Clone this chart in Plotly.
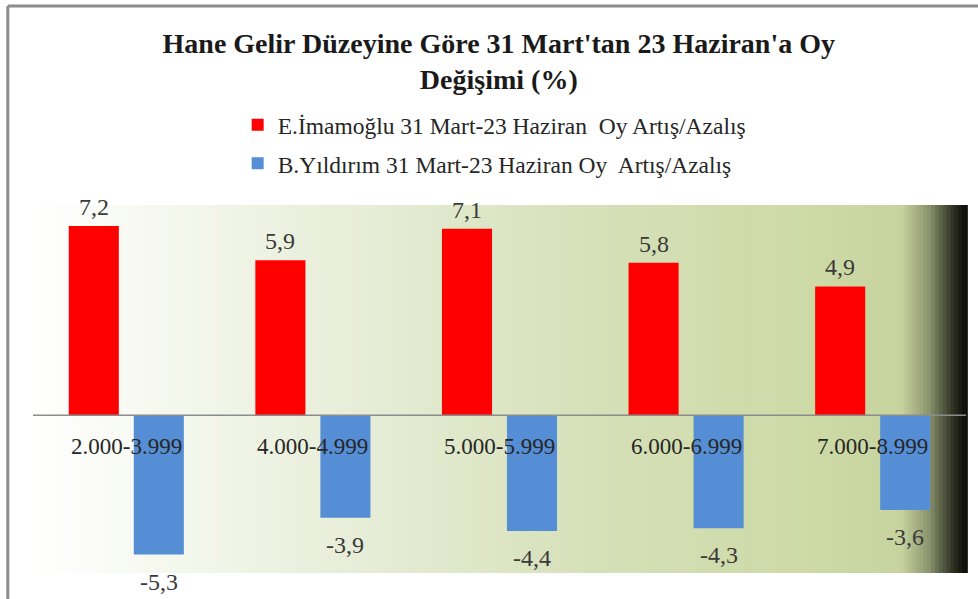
import plotly.graph_objects as go

# Income bands and vote change (percentage points) per candidate
categories = ["2.000-3.999", "4.000-4.999", "5.000-5.999", "6.000-6.999", "7.000-8.999"]
imamoglu = [7.2, 5.9, 7.1, 5.8, 4.9]
yildirim = [-5.3, -3.9, -4.4, -4.3, -3.6]
series_names = [
    "E.İmamoğlu 31 Mart-23 Haziran  Oy Artış/Azalış",
    "B.Yıldırım 31 Mart-23 Haziran Oy  Artış/Azalış",
]
title_text = "Hane Gelir Düzeyine Göre 31 Mart'tan 23 Haziran'a Oy<br>Değişimi (%)"

RED = "#ff0000"
BLUE = "#558ed5"
SERIF = "Liberation Serif, Times New Roman, serif"

fig = go.Figure()
fig.add_trace(go.Bar(x=categories, y=imamoglu, name=series_names[0],
                     marker=dict(color=RED, line=dict(width=0)), legendgroup="a"))
fig.add_trace(go.Bar(x=categories, y=yildirim, name=series_names[1],
                     marker=dict(color=BLUE, line=dict(width=0)), legendgroup="b"))

# value labels (comma as decimal separator)
annotations = []
for cat, a, b in zip(categories, imamoglu, yildirim):
    for val, dx in ((a, -32.5), (b, 32.5)):
        annotations.append(dict(
            x=cat, y=val, xref="x", yref="y", xshift=dx,
            yshift=19 if val > 0 else -27, yanchor="middle",
            text=f"{val:.1f}".replace(".", ","), showarrow=False,
            font=dict(family=SERIF, size=24, color="#3a3a3a")))
    # category label sitting just under the zero line
    annotations.append(dict(
        x=cat, y=0, xref="x", yref="y", yshift=-31, yanchor="middle",
        text=cat, showarrow=False,
        font=dict(family=SERIF, size=23, color="#262626")))

# horizontal background gradient: white -> pale green -> dark edge
stops = [
    (0.00, (255, 255, 255)),
    (0.18, (243, 246, 234)),
    (0.39, (228, 235, 211)),
    (0.60, (214, 224, 184)),
    (0.85, (205, 217, 165)),
    (0.93, (200, 212, 160)),
    (0.96, (140, 149, 110)),
    (0.985, (50, 52, 38)),
    (1.00, (10, 10, 8)),
]


def color_at(t):
    for (t0, c0), (t1, c1) in zip(stops[:-1], stops[1:]):
        if t0 <= t <= t1:
            f = (t - t0) / (t1 - t0) if t1 > t0 else 0
            return "rgb(%d,%d,%d)" % tuple(round(c0[i] + (c1[i] - c0[i]) * f) for i in range(3))
    return "rgb(%d,%d,%d)" % stops[-1][1]


shapes = []
n = 240
for i in range(n):
    x0, x1 = i / n, (i + 1) / n
    shapes.append(dict(type="rect", xref="paper", yref="paper", x0=x0, x1=x1 + 0.002,
                       y0=0, y1=1, fillcolor=color_at((x0 + x1) / 2),
                       line=dict(width=0), layer="below"))

# zero line
shapes.append(dict(type="line", xref="paper", yref="y", x0=0, x1=1, y0=0, y1=0,
                   line=dict(color="#8c8c8c", width=1.5), layer="above"))
# outer frame (top and left edges)
shapes.append(dict(type="line", xref="paper", yref="paper", x0=-0.027, x1=1.02,
                   y0=1.541, y1=1.541, line=dict(color="#8c8c8c", width=3)))
shapes.append(dict(type="line", xref="paper", yref="paper", x0=-0.027, x1=-0.027,
                   y0=1.541, y1=-0.08, line=dict(color="#8c8c8c", width=3)))

fig.update_layout(
    width=978, height=599,
    margin=dict(l=33, r=12, t=205, b=26, autoexpand=False),
    paper_bgcolor="white", plot_bgcolor="white",
    barmode="group", bargap=0.303, bargroupgap=0.23,
    title=dict(text=title_text, x=0.51, xref="container", xanchor="center",
               y=0.912, yref="container", yanchor="top",
               font=dict(family=SERIF, size=28, color="#1a1a1a", weight="bold")),
    legend=dict(xref="container", yref="container", x=0.243, y=0.828,
                xanchor="left", yanchor="top", orientation="v",
                font=dict(family=SERIF, size=23.5, color="#262626"),
                bgcolor="rgba(0,0,0,0)", tracegroupgap=5, itemwidth=30),
    xaxis=dict(showticklabels=False, showgrid=False, zeroline=False, showline=False,
               ticks=""),
    yaxis=dict(range=[-6, 8], showticklabels=False, showgrid=False, zeroline=False,
               showline=False, ticks=""),
    annotations=annotations, shapes=shapes, showlegend=True,
)

fig.write_html("out.html")
